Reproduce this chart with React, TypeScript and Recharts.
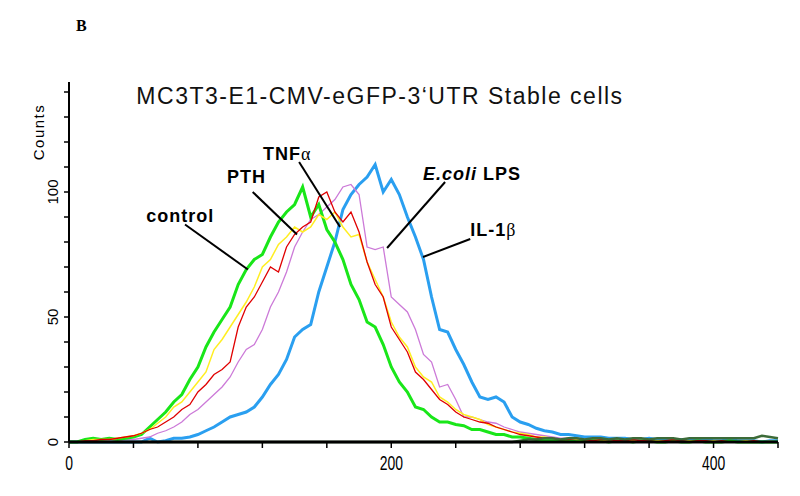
import React from 'react';
import { LineChart, Line, XAxis, YAxis, ReferenceLine, ReferenceDot } from 'recharts';

// fluorescence channel bins
const BINS = [
  0, 5, 10, 15, 20, 25, 30, 35, 40, 45,
  50, 55, 60, 65, 70, 75, 80, 85, 90, 95,
  100, 105, 110, 115, 120, 125, 130, 135, 140, 145,
  150, 155, 160, 165, 170, 175, 180, 185, 190, 195,
  200, 205, 210, 215, 220, 225, 230, 235, 240, 245,
  250, 255, 260, 265, 270, 275, 280, 285, 290, 295,
  300, 305, 310, 315, 320, 325, 330, 335, 340, 345,
  350, 355, 360, 365, 370, 375, 380, 385, 390, 395,
  400, 405, 410, 415, 420, 425, 430, 435, 440,
];

const CONTROL = [
  0, 0, 1, 1.5, 1, 1.5, 1, 1.5, 2, 3,
  6, 9, 12, 16, 19, 25, 30, 38, 44, 49,
  54, 63, 69, 73, 75, 82, 88, 92, 95, 102,
  90, 95, 85, 80, 73, 63, 57, 48, 46, 39,
  30, 24, 20, 14, 13, 10, 8, 8, 7, 6.5,
  5, 5, 4, 3, 3, 2, 2, 1.5, 1, 1,
  1, 0.5, 1, 0.5, 0.5, 1, 0.5, 0, 0.5, 0.5,
  0, 0.5, 0.5, 0, 0, 0.5, 0, 0, 0.5, 0,
  0, 0, 0.5, 0, 0, 0, 0, 0, 0,
];

const PTH = [
  0, 0, 0.5, 1, 1, 1, 1.5, 2, 2.5, 3.5,
  5, 7.5, 10, 14, 16, 20, 24, 28, 37, 41,
  46, 51, 56, 62, 70, 73, 79, 82, 86, 84,
  86, 91, 89, 92, 86, 82, 83, 72, 65, 58,
  48, 42, 38, 30, 26, 24, 18, 16, 13, 11,
  10, 9, 7, 6, 5, 4, 3.5, 3, 2, 2,
  1.5, 1, 1.5, 1, 1, 0.5, 1, 0.5, 0.5, 1,
  0.5, 0.5, 0, 0.5, 0.5, 0, 0, 0.5, 0, 0,
  0.5, 0, 0, 0, 0.5, 0, 0, 0, 0,
];

const TNF = [
  0, 0, 0.5, 0.5, 1, 1, 1.5, 2, 2.5, 3.5,
  5, 6, 8, 10, 13, 15, 20, 23, 27, 29,
  32, 46, 54, 58, 64, 70, 68, 78, 83, 86,
  88, 98, 100, 92, 88, 92, 84, 72, 63, 58,
  46, 41, 36, 28, 25, 21, 17, 15, 12, 10,
  9, 8, 7.5, 6, 5, 4, 3, 2.5, 2, 1.5,
  1.5, 1, 1, 1.5, 1, 0.5, 1, 1, 0.5, 0.5,
  1, 0.5, 0.5, 0, 0.5, 1, 0.5, 0, 0.5, 0.5,
  0, 0.5, 0, 0, 0, 0.5, 0, 0, 0,
];

const LPS = [
  0, 0, 0, 0, 0, 0, 0.5, 1, 1, 1.5,
  2, 3.5, 4.5, 6, 8, 11, 13, 16, 19, 22,
  26, 32, 37, 39, 45, 54, 60, 68, 78, 84,
  89, 91, 94, 97, 102, 103, 99, 78, 77, 78,
  58, 55, 52, 45, 35, 32, 22, 23, 17, 10,
  10, 9, 8, 7.5, 6, 5, 4, 3.5, 3, 2.5,
  2, 1.5, 1.5, 1, 1, 1.5, 1, 0.5, 1, 0.5,
  0.5, 1, 0.5, 0.5, 0, 0.5, 0.5, 0.5, 0, 0,
  0.5, 0, 0.5, 0, 0, 0, 0, 0.5, 0,
];

const IL1B = [
  0, 0, 0, 0, 0, 0, 0, 0, 0, 0,
  1.5, 0, 0.5, 1.5, 1.5, 2, 3, 4.5, 6, 8,
  10, 11, 12, 14, 18, 23, 27, 33, 42, 45,
  47, 60, 70, 80, 93, 99, 103, 106, 111, 100,
  105, 99, 90, 82, 73, 58, 45, 44, 37, 31,
  24, 18, 17, 18, 16, 10, 8, 7, 5.5, 4.5,
  4, 3, 3, 2.5, 2, 2, 2, 1.5, 1.5, 1.5,
  1, 1, 1.5, 1, 1, 0.5, 1, 1, 0.5, 1,
  0.5, 0.5, 1, 0.5, 0.5, 0.5, 0, 0.5, 0.5,
];

const BACKGROUND = [
  0, 0, 0, 0, 0, 0, 0, 0, 0, 0,
  0, 0, 0, 0, 0, 0, 0, 0, 0, 0,
  0, 0, 0, 0, 0, 0, 0, 0, 0, 0,
  0, 0, 0, 0, 0, 0, 0, 0, 0, 0,
  0, 0, 0, 0, 0, 0, 0, 0, 0, 0,
  0, 0, 0, 0, 0, 0, 0.5, 1, 1, 1.5,
  1.5, 1, 1.5, 1.5, 1, 1.5, 1.5, 1, 1.5, 1,
  1.5, 1.5, 1, 1.5, 1.5, 1.5, 1, 1.5, 1.5, 1.5,
  1.5, 1.5, 1.5, 1.5, 1.5, 1.5, 2.5, 2, 1.5,
];

const X_TICKS = [0, 40, 80, 120, 160, 200, 240, 280, 320, 360, 400, 440];
const X_LABELED = [0, 200, 400];
const Y_TICKS = [0, 10, 20, 30, 40, 50, 60, 70, 80, 90, 100, 110, 120, 130, 140];
const Y_LABELED = [0, 50, 100];

// callouts in data coordinates: label anchor, leader line start/end
const CALLOUTS = [
  { id: 'control', at: [48, 88], from: [72, 87], to: [111, 69] },
  { id: 'pth', at: [98, 103.6], from: [114, 100], to: [141.5, 83] },
  { id: 'tnf', at: [120.4, 112.8], from: [142.8, 112], to: [168.2, 86] },
  { id: 'lps', at: [219.7, 104.8], from: [233.4, 104], to: [197.4, 77.6] },
  { id: 'il1b', at: [249, 82.4], from: [249, 81.2], to: [219.7, 74] },
];

const data = BINS.map((x, i) => ({
  x,
  control: CONTROL[i],
  pth: PTH[i],
  tnf: TNF[i],
  lps: LPS[i],
  il1b: IL1B[i],
  bg: BACKGROUND[i],
}));

const LINES = [
  { key: 'il1b', color: '#2a9ff0', width: 3 },
  { key: 'lps', color: '#cc7ad8', width: 1.3 },
  { key: 'control', color: '#19e619', width: 3 },
  { key: 'pth', color: '#ffee22', width: 1.5 },
  { key: 'tnf', color: '#e00000', width: 1.3 },
  { key: 'bg', color: '#3c6b38', width: 2.5 },
];

const LABEL_FONT = 'Liberation Sans, Arial, sans-serif';

function calloutText(id: string) {
  const greek = { fontFamily: 'Liberation Serif, serif', fontWeight: 400 };
  switch (id) {
    case 'control':
      return 'control';
    case 'pth':
      return 'PTH';
    case 'tnf':
      return (
        <>
          TNF<tspan {...greek}>α</tspan>
        </>
      );
    case 'lps':
      return (
        <>
          <tspan fontStyle="italic">E.coli</tspan> LPS
        </>
      );
    default:
      return (
        <>
          IL-1<tspan {...greek}>β</tspan>
        </>
      );
  }
}

const XTick = (props: any) => {
  const { x, y, payload } = props;
  if (!X_LABELED.includes(payload.value)) return <g />;
  // tall, condensed digits like the cytometer export
  return (
    <text
      transform={`translate(${x}, ${y + 20}) scale(0.82, 1.15)`}
      textAnchor="middle"
      fontFamily={LABEL_FONT}
      fontSize={17}
      fill="#000"
    >
      {payload.value}
    </text>
  );
};

const YTick = (props: any) => {
  const { x, y, payload } = props;
  if (!Y_LABELED.includes(payload.value)) return <g />;
  return (
    <text
      transform={`translate(${x - 4}, ${y}) rotate(-90)`}
      textAnchor="middle"
      fontFamily={LABEL_FONT}
      fontSize={15}
      fill="#000"
    >
      {payload.value}
    </text>
  );
};

export default function App() {
  return (
    <div
      style={{
        position: 'fixed',
        left: 0,
        top: 0,
        width: 800,
        height: 496,
        background: '#fff',
      }}
    >
      <LineChart
        width={800}
        height={496}
        data={data}
        margin={{ top: 82, right: 22, bottom: 24, left: 29 }}
      >
        <XAxis
          dataKey="x"
          type="number"
          domain={[0, 440]}
          ticks={X_TICKS}
          height={30}
          tick={<XTick />}
          tickSize={6}
          axisLine={{ stroke: '#000', strokeWidth: 3 }}
          tickLine={{ stroke: '#000', strokeWidth: 1.5 }}
        />
        <YAxis
          type="number"
          domain={[0, 144]}
          ticks={Y_TICKS}
          width={40}
          tick={<YTick />}
          tickSize={5}
          axisLine={{ stroke: '#000', strokeWidth: 2 }}
          tickLine={{ stroke: '#000', strokeWidth: 1.5 }}
        />
        {LINES.map((l) => (
          <Line
            key={l.key}
            dataKey={l.key}
            type="linear"
            stroke={l.color}
            strokeWidth={l.width}
            strokeLinejoin="miter"
            dot={false}
            activeDot={false}
            isAnimationActive={false}
          />
        ))}
        {CALLOUTS.map((c) => (
          <ReferenceLine
            key={`line-${c.id}`}
            segment={[
              { x: c.from[0], y: c.from[1] },
              { x: c.to[0], y: c.to[1] },
            ]}
            stroke="#000"
            strokeWidth={2}
          />
        ))}
        {CALLOUTS.map((c) => (
          <ReferenceDot
            key={`label-${c.id}`}
            x={c.at[0]}
            y={c.at[1]}
            r={0}
            shape={(p: any) => (
              <text
                x={p.cx}
                y={p.cy}
                fontFamily={LABEL_FONT}
                fontWeight={700}
                fontSize={18}
                letterSpacing={1}
                fill="#000"
              >
                {calloutText(c.id)}
              </text>
            )}
          />
        ))}
      </LineChart>
      <svg
        width={800}
        height={496}
        style={{ position: 'absolute', left: 0, top: 0, pointerEvents: 'none' }}
      >
        <text x={76} y={31} fontFamily="Liberation Serif, serif" fontWeight={700} fontSize={16}>
          B
        </text>
        <text
          x={380}
          y={104}
          textAnchor="middle"
          fontFamily={LABEL_FONT}
          fontSize={23}
          letterSpacing={1.5}
          fill="#111"
        >
          MC3T3-E1-CMV-eGFP-3‘UTR Stable cells
        </text>
        <text
          transform="translate(44, 132) rotate(-90)"
          textAnchor="middle"
          fontFamily={LABEL_FONT}
          fontSize={15}
          letterSpacing={1.5}
          fill="#000"
        >
          Counts
        </text>
      </svg>
    </div>
  );
}
